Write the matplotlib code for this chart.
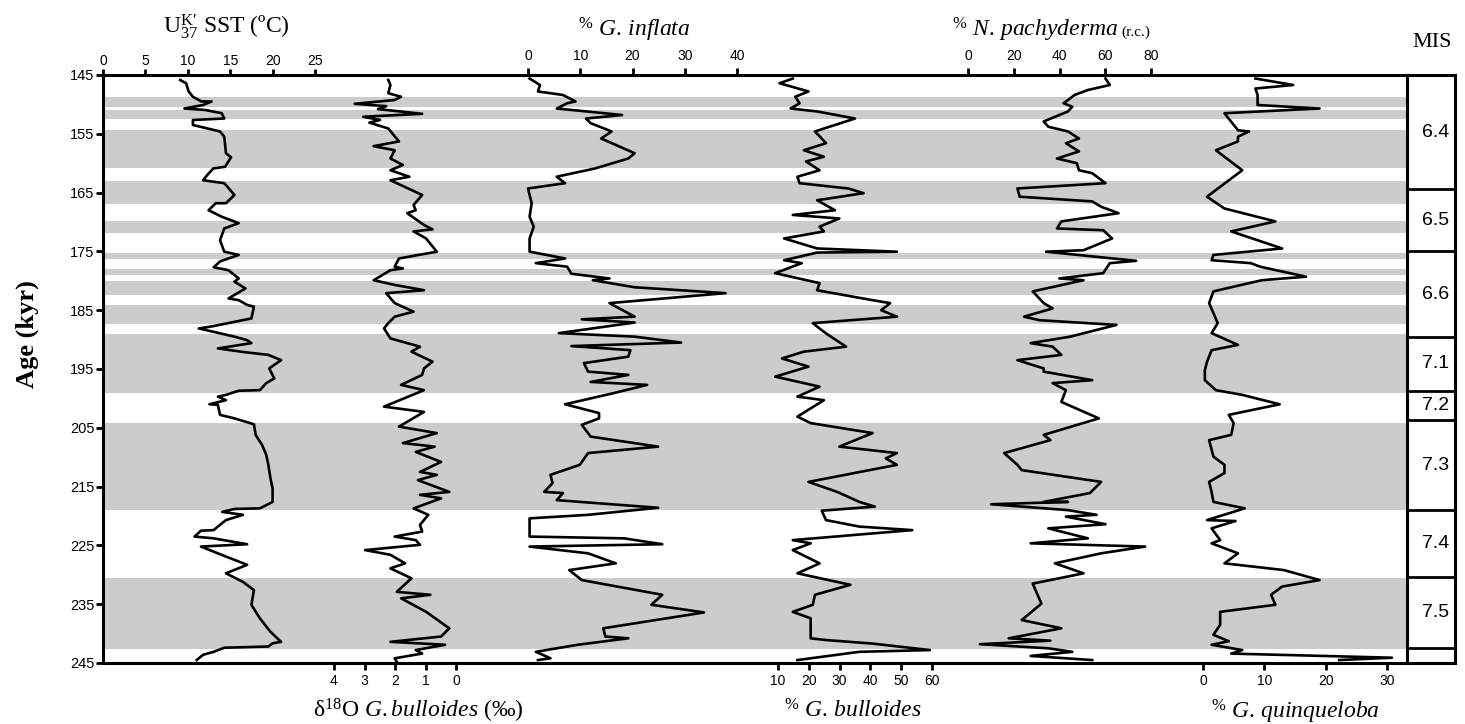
import numpy as np
import matplotlib.pyplot as plt

plt.rcParams['mathtext.fontset'] = 'custom'
plt.rcParams['mathtext.rm'] = 'Liberation Serif'
plt.rcParams['mathtext.it'] = 'Liberation Serif:italic'
plt.rcParams['mathtext.bf'] = 'Liberation Serif:bold'
plt.rcParams['font.family'] = ['Liberation Sans', 'DejaVu Sans']

# --- data (age in kyr) ---
sst_age = [145.85, 146.4, 147.8, 148.7, 149.5, 149.5, 150.1, 150.7, 150.95, 151.5,
           152.4, 152.65, 153.5, 154.6, 155.5, 158.3, 159.0, 160.6, 160.9, 162.0,
           162.9, 163.4, 165.4, 166.8, 166.8, 168.0, 169.1, 170.2, 171.1, 173.1,
           175.05, 175.6, 176.7, 177.7, 178.2, 179.6, 180.15, 181.3, 183.0, 183.3,
           184.1, 184.4, 186.4, 187.7, 188.1, 189.5, 190.1, 190.6, 191.5, 192.1,
           192.6, 193.5, 194.9, 196.6, 197.4, 198.6, 198.7, 199.4, 199.7, 200.3,
           201.0, 201.1, 202.8, 203.4, 204.4, 206.2, 207.9, 209.6, 211.3, 213.6,
           215.3, 217.6, 218.7, 218.8, 219.3, 219.8, 220.7, 221.5, 222.4, 222.5,
           223.5, 223.8, 224.8, 225.2, 226.9, 228.3, 229.75, 231.2, 232.6, 235.1,
           237.4, 239.7, 241.4, 241.65, 242.2, 242.4, 243.1, 243.6, 244.5]
sst = [9.1, 9.8, 10.1, 10.6, 11.6, 12.8, 11.8, 9.6, 12.05, 14.0,
       14.3, 10.6, 10.6, 13.8, 14.3, 14.5, 15.1, 14.4, 13.0, 12.3,
       11.8, 14.3, 15.5, 14.5, 13.3, 12.45, 14.0, 16.0, 14.3, 13.8,
       14.3, 16.0, 13.8, 13.05, 14.8, 16.0, 15.5, 16.8, 14.8, 16.0,
       17.0, 17.8, 17.5, 13.05, 11.3, 15.5, 17.0, 17.5, 13.55, 16.5,
       19.5, 21.0, 19.6, 20.2, 19.25, 18.5, 16.0, 14.5, 13.55, 14.5,
       12.55, 13.55, 13.8, 15.5, 17.8, 18.0, 18.75, 19.25, 19.5, 19.75,
       20.0, 20.0, 18.5, 15.5, 14.05, 16.5, 14.5, 13.8, 13.05, 11.55,
       10.8, 13.05, 17.0, 11.55, 14.5, 17.0, 14.5, 16.5, 17.8, 17.5,
       18.5, 19.75, 21.0, 20.0, 19.5, 14.3, 13.05, 11.8, 11.05]

d18o_age = [145.85, 146.7, 148.1, 148.7, 149.25, 149.9, 150.3, 150.8, 151.6, 152.1,
            152.65, 153.1, 154.1, 156.3, 157.1, 157.8, 159.2, 160.3, 161.2, 162.3,
            162.9, 165.4, 167.1, 168.0, 168.5, 170.5, 171.25, 171.6, 172.8, 175.05,
            176.2, 177.6, 177.9, 178.2, 179.9, 180.7, 181.6, 182.1, 183.8, 185.25,
            186.1, 187.2, 188.1, 189.8, 191.2, 192.05, 193.75, 194.9, 196.0, 197.7,
            198.6, 201.4, 202.3, 204.8, 205.9, 207.6, 208.2, 209.1, 210.8, 212.5,
            213.0, 213.9, 215.9, 216.4, 217.0, 218.7, 219.8, 221.5, 222.65, 223.5,
            224.1, 224.9, 225.8, 226.6, 228.05, 228.9, 230.6, 232.9, 233.4, 234.0,
            236.3, 239.1, 240.5, 241.4, 241.9, 242.8, 243.4, 244.2, 244.8]
d18o = [2.22, 2.15, 2.22, 1.80, 2.01, 3.32, 2.29, 2.56, 1.11, 3.04,
        2.49, 2.84, 2.22, 1.87, 2.70, 2.01, 2.15, 1.74, 2.15, 1.53,
        2.15, 1.11, 1.39, 1.32, 1.60, 1.05, 0.77, 1.39, 0.98, 0.63,
        1.87, 2.01, 1.74, 2.15, 2.70, 2.01, 1.05, 2.29, 2.01, 1.39,
        2.01, 2.22, 2.36, 2.15, 1.18, 1.46, 0.77, 1.05, 1.11, 1.80,
        1.05, 2.36, 1.05, 1.87, 0.63, 1.74, 0.70, 1.32, 0.49, 1.18,
        0.63, 1.25, 0.22, 1.18, 0.49, 1.39, 0.91, 1.18, 1.11, 2.01,
        1.32, 1.18, 2.98, 2.15, 1.67, 2.15, 1.46, 1.94, 0.84, 1.80,
        0.98, 0.22, 0.49, 2.15, 0.36, 1.32, 1.11, 2.01, 1.94]

infl_age = [145.6, 146.7, 147.8, 148.4, 149.5, 149.8, 150.7, 151.8, 152.4, 153.2,
            154.6, 155.8, 158.3, 159.2, 160.9, 162.3, 163.4, 164.3, 166.8, 169.1,
            170.8, 172.8, 175.05, 176.2, 177.0, 177.6, 178.8, 179.6, 179.9, 181.1,
            182.1, 183.8, 186.1, 186.55, 187.1, 188.9, 189.5, 190.5, 191.1, 191.8,
            192.9, 194.0, 195.45, 196.0, 197.2, 197.7, 199.1, 201.0, 202.5, 203.4,
            204.5, 206.5, 208.2, 209.3, 211.3, 213.0, 214.4, 215.9, 216.1, 217.3,
            218.6, 219.8, 220.4, 223.5, 223.8, 224.8, 225.2, 226.35, 228.05, 229.2,
            230.9, 233.4, 235.1, 236.4, 239.1, 240.5, 240.8, 241.9, 243.1, 244.2, 244.5]
infl = [0.3, 2.3, 1.9, 6.7, 9.1, 7.5, 5.5, 18.0, 11.1, 12.0,
        16.0, 14.0, 20.4, 19.2, 12.8, 5.5, 7.1, 0.0, 0.7, 0.3,
        1.1, 0.3, 0.3, 7.1, 1.5, 7.5, 8.3, 15.6, 12.4, 20.4,
        37.8, 15.6, 20.4, 10.3, 20.4, 5.9, 20.4, 29.3, 8.3, 19.6,
        19.2, 10.7, 11.5, 19.2, 12.0, 22.8, 16.4, 7.1, 13.6, 13.6,
        10.3, 12.0, 24.9, 11.5, 9.9, 4.3, 4.7, 3.1, 6.7, 5.5,
        24.9, 11.5, 0.3, 0.3, 18.4, 25.7, 0.3, 11.5, 16.8, 7.9,
        10.3, 25.7, 23.6, 33.7, 14.4, 14.8, 19.2, 9.5, 1.5, 4.3, 1.9]

bull_age = [145.6, 146.4, 147.8, 148.7, 149.8, 150.7, 151.2, 152.4, 154.6, 156.6,
            157.8, 158.9, 159.7, 161.2, 162.3, 163.4, 164.3, 165.1, 166.3, 168.0,
            168.8, 169.4, 170.8, 171.6, 172.8, 174.5, 175.05, 175.2, 176.5, 177.0,
            178.7, 180.4, 181.6, 183.3, 183.8, 185.0, 186.1, 187.2, 188.4, 189.2,
            191.2, 192.05, 193.2, 194.6, 196.3, 198.0, 199.7, 200.3, 203.1, 204.2,
            205.9, 208.2, 209.3, 210.2, 211.3, 214.2, 215.9, 217.6, 218.4, 219.1,
            220.7, 221.8, 222.4, 224.1, 224.65, 225.8, 228.05, 229.75, 231.7, 233.4,
            235.1, 236.3, 237.4, 240.8, 241.1, 241.7, 242.8, 243.1, 244.5]
bull = [14.8, 10.5, 19.9, 15.6, 17.0, 14.1, 22.7, 35.0, 22.0, 25.6,
        18.4, 24.9, 19.1, 23.5, 16.3, 17.0, 32.8, 37.8, 22.7, 28.5,
        14.8, 29.9, 23.5, 24.9, 12.0, 22.7, 48.6, 22.7, 12.0, 17.7,
        9.1, 23.5, 22.7, 40.7, 46.4, 43.5, 48.6, 21.3, 24.2, 26.3,
        32.1, 18.4, 11.3, 19.9, 9.1, 23.5, 16.3, 24.9, 16.3, 20.6,
        40.7, 29.9, 48.6, 45.0, 48.6, 19.9, 29.2, 36.4, 41.4, 24.2,
        25.6, 36.4, 53.6, 14.8, 20.6, 14.8, 23.5, 16.3, 33.5, 22.0,
        21.3, 14.8, 20.6, 20.6, 25.6, 40.7, 59.3, 36.4, 16.3]

pach_age = [145.6, 146.7, 147.55, 148.4, 149.8, 150.4, 151.2, 152.9, 153.8, 154.6,
            155.8, 156.6, 158.0, 159.2, 160.0, 161.2, 161.7, 163.4, 164.3, 165.7,
            166.5, 167.4, 168.5, 169.9, 171.1, 171.4, 172.8, 174.8, 175.05, 176.6,
            177.0, 178.7, 179.6, 179.9, 181.8, 183.8, 184.7, 186.1, 186.7, 187.5,
            189.5, 190.6, 191.2, 192.6, 193.5, 194.9, 195.45, 196.9, 197.4, 198.6,
            200.6, 203.4, 206.2, 207.1, 209.3, 211.3, 212.2, 214.2, 216.1, 217.6,
            217.6, 218.0, 219.0, 219.8, 220.1, 221.4, 222.1, 223.8, 224.65, 225.2,
            226.35, 228.05, 229.75, 231.5, 234.9, 237.7, 239.1, 240.8, 241.2, 241.8,
            242.5, 243.1, 243.8, 244.5]
pach = [60.1, 62.0, 52.4, 46.6, 41.8, 45.6, 43.7, 33.1, 35.1, 43.7,
        48.5, 42.8, 48.5, 38.9, 47.6, 48.5, 54.3, 60.1, 21.6, 22.6,
        54.3, 58.2, 65.8, 40.8, 38.9, 59.1, 63.0, 50.5, 34.1, 73.5,
        62.0, 59.1, 39.9, 50.5, 28.3, 33.1, 37.0, 24.5, 31.2, 64.9,
        44.7, 27.4, 37.0, 40.8, 21.6, 33.1, 33.1, 54.3, 37.0, 42.8,
        40.8, 57.2, 33.1, 36.0, 15.8, 21.6, 23.5, 58.2, 53.3, 33.1,
        43.7, 10.1, 43.7, 56.2, 42.8, 60.1, 35.1, 52.4, 27.4, 77.4,
        58.2, 38.0, 50.5, 28.3, 32.1, 23.5, 40.8, 17.8, 36.0, 5.2,
        35.1, 45.6, 27.4, 54.3]

quinq_age = [145.6, 146.7, 147.3, 148.4, 150.1, 150.7, 151.5, 154.4, 154.6, 155.5,
             156.3, 157.8, 161.2, 165.7, 167.7, 169.9, 171.6, 174.5, 175.6, 176.5,
             177.0, 177.6, 179.3, 179.9, 181.0, 181.8, 183.8, 187.2, 188.9, 190.9,
             191.8, 193.8, 195.2, 196.9, 198.6, 199.4, 201.0, 202.8, 204.2, 206.2,
             207.1, 209.9, 211.3, 212.7, 214.2, 215.9, 217.6, 218.7, 220.7, 220.85,
             222.1, 224.1, 224.65, 226.35, 228.05, 229.2, 230.9, 232.0, 233.4, 235.1,
             236.3, 238.5, 240.2, 241.3, 241.9, 242.8, 243.4, 244.1, 244.5]
quinq = [8.55, 14.7, 8.55, 8.9, 8.9, 19.0, 3.5, 5.7, 7.5, 5.7,
         5.7, 2.1, 6.4, 0.65, 3.5, 11.8, 4.6, 12.9, 1.7, 1.4,
         7.8, 9.3, 16.8, 9.6, 5.0, 1.7, 1.0, 2.4, 1.4, 5.7,
         1.4, 0.65, 0.3, 0.3, 2.1, 6.4, 12.5, 4.2, 5.0, 4.6,
         1.0, 1.7, 3.5, 3.5, 1.0, 1.4, 1.7, 6.8, 0.65, 5.3,
         1.4, 2.8, 1.4, 5.7, 3.5, 13.2, 19.0, 12.9, 11.1, 11.8,
         2.8, 2.8, 1.7, 4.2, 1.4, 6.4, 4.6, 30.8, 22.2]

band_top = [148.8, 151.0, 154.4, 163.1, 169.8, 175.2, 178.0, 180.1, 184.1, 189.1, 204.1, 230.6]
band_bot = [150.4, 152.5, 160.8, 166.9, 171.9, 176.3, 179.0, 182.4, 187.3, 199.0, 218.9, 242.7]

mis_bounds = [145, 164.4, 175.0, 189.5, 198.7, 203.7, 219.0, 230.3, 242.5, 245]
mis_labels = ['6.4', '6.5', '6.6', '7.1', '7.2', '7.3', '7.4', '7.5', '']

age_ticks = [145, 155, 165, 175, 185, 195, 205, 215, 225, 235, 245]

# --- layout in pixels ---
W, H = 1465, 724
X0, X1, Y0, Y1 = 103, 1407, 75, 663


def rect(x0, y0, x1, y1):
    return [x0 / W, 1 - y1 / H, (x1 - x0) / W, (y1 - y0) / H]


def lims(v0, p0, v1, p1):
    # x-limits so that value v0 sits at pixel p0 and v1 at pixel p1
    k = (v1 - v0) / (p1 - p0)
    return v0 + (X0 - p0) * k, v0 + (X1 - p0) * k


fig = plt.figure(figsize=(W / 100, H / 100), dpi=100)
ax = fig.add_axes(rect(X0, Y0, X1, Y1))
ax.set_ylim(245, 145)
for a, b in zip(band_top, band_bot):
    ax.axhspan(a, b, color='#cccccc', lw=0, zorder=0)

for s in ['left', 'top', 'bottom']:
    ax.spines[s].set_linewidth(2.2)
ax.spines['right'].set_visible(False)
ax.set_yticks(age_ticks)
ax.tick_params(axis='y', direction='out', length=5, width=2, labelsize=10.5, pad=1)
ax.set_ylabel('Age (kyr)', family='Liberation Serif', fontsize=19, fontweight='bold')
ax.yaxis.set_label_coords(-0.049, 0.56)

lw = 1.9
# SST on main axis (top)
ax.set_xlim(*lims(0, 103, 25, 315))
ax.plot(sst, sst_age, color='black', lw=lw, zorder=3)

series = [
    (d18o, d18o_age, lims(4, 334, 0, 456), [4, 3, 2, 1, 0], 'bottom'),
    (infl, infl_age, lims(0, 528, 40, 737), [0, 10, 20, 30, 40], 'top'),
    (bull, bull_age, lims(10, 778, 60, 932), [10, 20, 30, 40, 50, 60], 'bottom'),
    (pach, pach_age, lims(0, 968, 80, 1151), [0, 20, 40, 60, 80], 'top'),
    (quinq, quinq_age, lims(0, 1203, 30, 1387), [0, 10, 20, 30], 'bottom'),
]
for vals, ages, xl, ticks, side in series:
    t = ax.twiny()
    t.set_xlim(*xl)
    t.set_ylim(245, 145)
    t.plot(vals, ages, color='black', lw=lw, zorder=3)
    for s in t.spines.values():
        s.set_visible(False)
    if side == 'bottom':
        t.xaxis.set_ticks_position('bottom')
        t.tick_params(axis='x', pad=3)
    t.set_xticks(ticks)
    t.tick_params(axis='x', direction='out', length=5, width=2, labelsize=10)

# twiny moves the main x ticks to the bottom, put SST back on top
ax.xaxis.tick_top()
ax.set_xticks([0, 5, 10, 15, 20, 25])
ax.tick_params(axis='x', direction='out', length=4, width=2, labelsize=10, pad=1)

# MIS column
mx = fig.add_axes(rect(X1, Y0, 1455, Y1))
mx.set_ylim(245, 145)
mx.set_xlim(0, 1)
mx.set_xticks([])
mx.set_yticks([])
for s in mx.spines.values():
    s.set_linewidth(2.2)
for b in mis_bounds[1:-1]:
    mx.axhline(b, color='black', lw=2)
for i, lab in enumerate(mis_labels):
    mid = (mis_bounds[i] + mis_bounds[i + 1]) / 2
    mx.text(0.6, mid, lab, ha='center', va='center', fontsize=14)


def ftext(x, y, s, **kw):
    kw.setdefault('family', 'Liberation Serif')
    kw.setdefault('fontsize', 17)
    fig.text(x / W, 1 - y / H, s, ha=kw.pop('ha', 'center'), va='baseline', **kw)


ftext(226, 33, r"$\mathrm{U}^{\mathrm{K}\prime}_{37}$ SST (ºC)")
ftext(634, 37, r"${}^{\%}$ $\mathit{G.\,inflata}$")
ftext(1118, 36, r"${}^{\%}$ $\mathit{N.\,pachyderma}$", ha='right')
ftext(1121, 36, "(r.c.)", ha='left', fontsize=11)
ftext(1432, 47, "MIS", fontsize=16)
ftext(418, 718, r"δ$^{18}$O $\mathit{G.bulloides}$ (‰)")
ftext(853, 718, r"${}^{\%}$ $\mathit{G.\,bulloides}$")
ftext(1295, 718, r"${}^{\%}$ $\mathit{G.\,quinqueloba}$")

fig.savefig('out.png', dpi=100)
